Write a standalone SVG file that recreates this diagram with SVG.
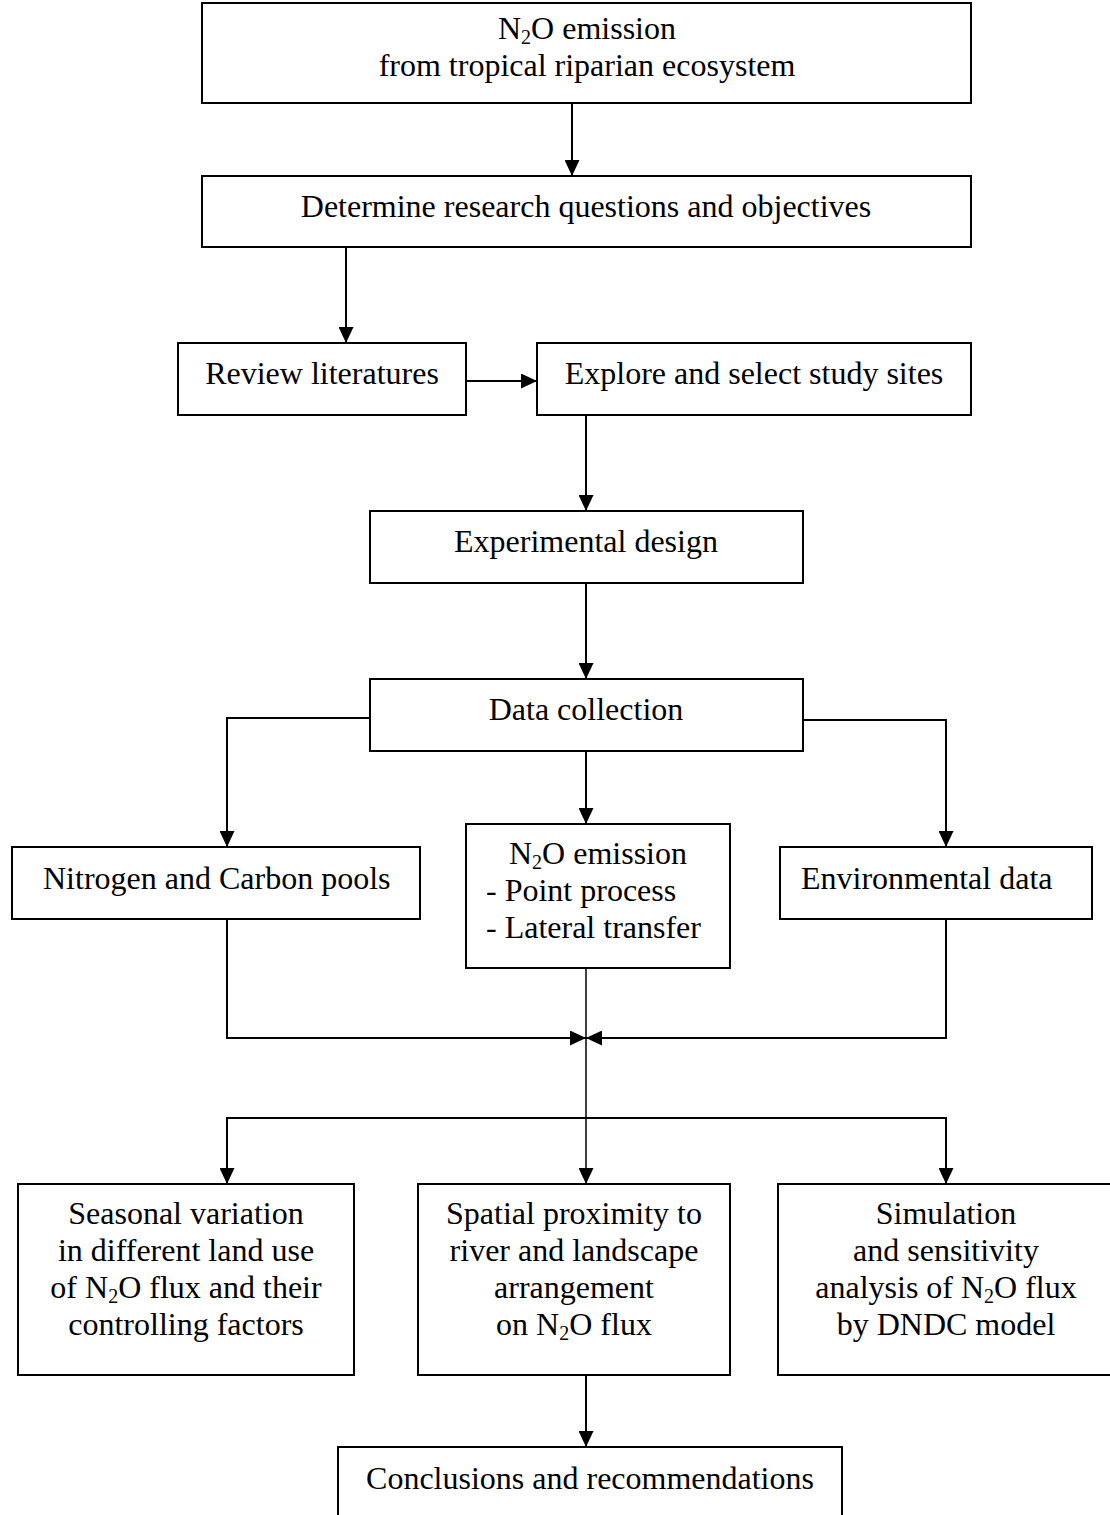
<svg xmlns="http://www.w3.org/2000/svg" width="1110" height="1515" viewBox="0 0 1110 1515">
<style>
.box{fill:#fff;stroke:#000;stroke-width:2}
.t{font-family:"Liberation Serif","Times New Roman",serif;font-size:32px;fill:#000}
.m{text-anchor:middle}
.c{fill:none;stroke:#000;stroke-width:2}
.thin{fill:none;stroke:#000;stroke-width:1.5}
</style>
<defs>
<marker id="ah" markerUnits="userSpaceOnUse" markerWidth="16" markerHeight="15" refX="16" refY="7.5" orient="auto">
<path d="M0,0 L16,7.5 L0,15 z" fill="#000"/>
</marker>
</defs>
<rect width="1110" height="1515" fill="#fff"/>
<g id="connectors">
<line class="c" x1="572" y1="103" x2="572" y2="176" marker-end="url(#ah)"/>
<line class="c" x1="346" y1="247" x2="346" y2="343" marker-end="url(#ah)"/>
<line class="c" x1="466" y1="381" x2="537" y2="381" marker-end="url(#ah)"/>
<line class="c" x1="586" y1="415" x2="586" y2="511" marker-end="url(#ah)"/>
<line class="c" x1="586" y1="583" x2="586" y2="679" marker-end="url(#ah)"/>
<polyline class="c" points="370,718 227,718 227,847" marker-end="url(#ah)"/>
<line class="c" x1="586" y1="751" x2="586" y2="824" marker-end="url(#ah)"/>
<polyline class="c" points="803,720 946,720 946,847" marker-end="url(#ah)"/>
<polyline class="c" points="227,919 227,1038 586,1038" marker-end="url(#ah)"/>
<polyline class="c" points="946,919 946,1038 586,1038" marker-end="url(#ah)"/>
<line class="thin" x1="586" y1="968" x2="586" y2="1184" marker-end="url(#ah)"/>
<polyline class="c" points="227,1184 227,1118 946,1118 946,1184" marker-end="url(#ah)"/>
<line class="c" x1="227" y1="1118" x2="227" y2="1184" marker-end="url(#ah)"/>
<line class="c" x1="586" y1="1375" x2="586" y2="1447" marker-end="url(#ah)"/>
</g>
<g id="n1"><rect class="box" x="202" y="3" width="769" height="100"/>
<text class="t m" x="587" y="39">N<tspan font-size="20" dy="5">2</tspan><tspan dy="-5">O emission</tspan></text>
<text class="t m" x="587" y="76">from tropical riparian ecosystem</text></g>
<g id="n2"><rect class="box" x="202" y="176" width="769" height="71"/>
<text class="t m" x="586" y="217">Determine research questions and objectives</text></g>
<g id="n3"><rect class="box" x="178" y="343" width="288" height="72"/>
<text class="t m" x="322" y="384">Review literatures</text></g>
<g id="n4"><rect class="box" x="537" y="343" width="434" height="72"/>
<text class="t m" x="754" y="384">Explore and select study sites</text></g>
<g id="n5"><rect class="box" x="370" y="511" width="433" height="72"/>
<text class="t m" x="586" y="552">Experimental design</text></g>
<g id="n6"><rect class="box" x="370" y="679" width="433" height="72"/>
<text class="t m" x="586" y="720">Data collection</text></g>
<g id="n7"><rect class="box" x="12" y="847" width="408" height="72"/>
<text class="t" x="43" y="889">Nitrogen and Carbon pools</text></g>
<g id="n8"><rect class="box" x="466" y="824" width="264" height="144"/>
<text class="t m" x="598" y="864">N<tspan font-size="20" dy="5">2</tspan><tspan dy="-5">O emission</tspan></text>
<text class="t" x="486" y="901">- Point process</text>
<text class="t" x="486" y="938">- Lateral transfer</text></g>
<g id="n9"><rect class="box" x="780" y="847" width="312" height="72"/>
<text class="t" x="801" y="889">Environmental data</text></g>
<g id="n10"><rect class="box" x="18" y="1184" width="336" height="191"/>
<text class="t m" x="186" y="1224">Seasonal variation</text>
<text class="t m" x="186" y="1261">in different land use</text>
<text class="t m" x="186" y="1298">of N<tspan font-size="20" dy="5">2</tspan><tspan dy="-5">O flux and their</tspan></text>
<text class="t m" x="186" y="1335">controlling factors</text></g>
<g id="n11"><rect class="box" x="418" y="1184" width="312" height="191"/>
<text class="t m" x="574" y="1224">Spatial proximity to</text>
<text class="t m" x="574" y="1261">river and landscape</text>
<text class="t m" x="574" y="1298">arrangement</text>
<text class="t m" x="574" y="1335">on N<tspan font-size="20" dy="5">2</tspan><tspan dy="-5">O flux</tspan></text></g>
<g id="n12"><rect class="box" x="778" y="1184" width="340" height="191"/>
<text class="t m" x="946" y="1224">Simulation</text>
<text class="t m" x="946" y="1261">and sensitivity</text>
<text class="t m" x="946" y="1298">analysis of N<tspan font-size="20" dy="5">2</tspan><tspan dy="-5">O flux</tspan></text>
<text class="t m" x="946" y="1335">by DNDC model</text></g>
<g id="n13"><rect class="box" x="338" y="1447" width="504" height="80"/>
<text class="t m" x="590" y="1489">Conclusions and recommendations</text></g>
</svg>
